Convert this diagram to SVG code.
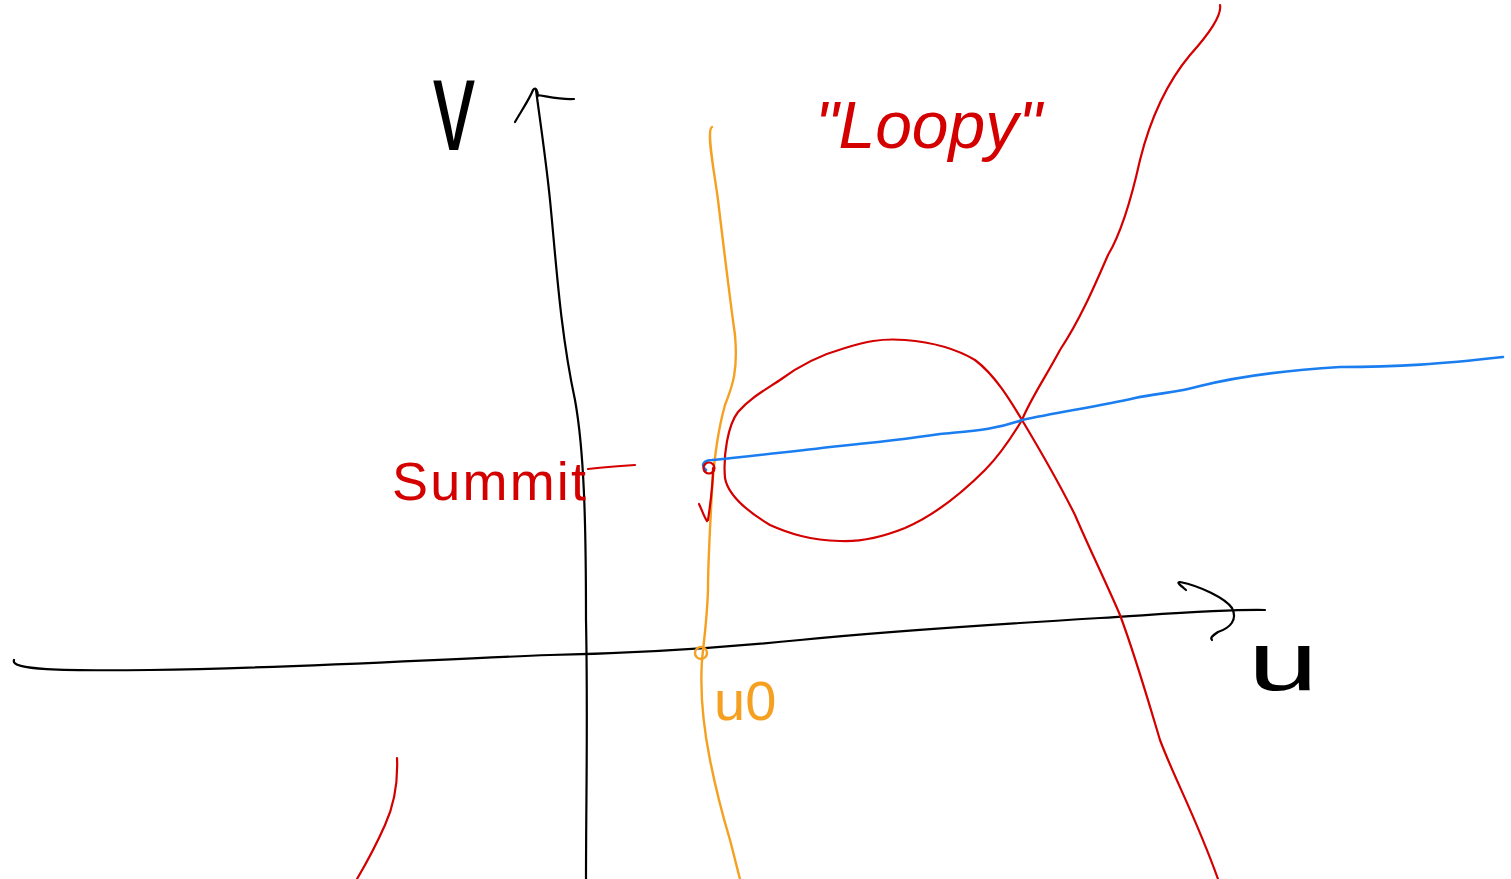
<svg xmlns="http://www.w3.org/2000/svg" width="1511" height="879" viewBox="0 0 1511 879">
<style>
.s{fill:none;stroke-linecap:round;stroke-linejoin:round}
.k{stroke:#000;stroke-width:2.2}
.r{stroke:#d40000;stroke-width:2.2}
.o{stroke:#f5a020;stroke-width:2.4}
.b{stroke:#1a7ef0;stroke-width:2.6}
.t{font-family:"Liberation Sans",Arial,sans-serif}
</style>
<rect width="1511" height="879" fill="#fff"/>
<g id="connectors">
<path id="v-axis" class="s k" d="M586,879 C586,800 588,720 586,620 C586,520 584,450 575,400 C560,330 556,260 550,200 C546,160 540,120 536,90"/>
<path id="v-arrow" class="s k" d="M515,122 C522,110 530,98 533,90 C536,86 538,92 538,96 M537,95 C550,97 562,100 574,99"/>
<path id="u-axis" class="s k" d="M14,660 C10,670 60,671 150,670 C300,668 420,660 550,655 C650,653 720,648 800,640 C900,630 1000,624 1100,618 C1180,613 1230,609 1265,610"/>
<path id="u-arrow" class="s k" d="M1186,590 C1180,585 1176,582 1180,582 C1200,586 1225,598 1232,608 C1238,620 1230,628 1218,632 C1212,636 1210,638 1212,640"/>
<path id="orange" class="s o" d="M712,127 C706,130 714,170 718,200 C724,250 730,300 735,335 C738,370 733,385 725,405 C718,430 714,460 712,490 C710,530 708,560 708,590 C707,620 704,640 702,660 C700,690 702,720 710,760 C716,790 724,820 730,840 C734,855 737,868 740,879"/>
<circle cx="701" cy="653" r="6" class="s o" stroke-width="3"/>
<path id="red-loop" class="s r" d="M1220,5 C1222,15 1208,35 1190,55 C1165,85 1150,120 1140,160 C1130,205 1120,235 1108,255 C1095,285 1080,320 1060,350 C1045,378 1030,400 1022,420 C1010,440 1000,455 985,470 C960,495 935,515 905,528 C880,538 860,542 840,541 C810,540 790,534 770,525 C745,510 728,495 725,478 C723,455 728,425 738,412 C750,398 765,390 780,380 C800,365 820,355 845,348 C865,342 880,338 905,340 C930,342 955,348 975,360 C995,375 1010,400 1022,420 C1040,450 1060,485 1075,515 C1090,550 1105,580 1120,615 C1135,655 1148,700 1160,740 C1175,780 1195,815 1218,879"/>
<path id="red-bottom" class="s r" d="M397,758 C398,780 394,805 385,825 C377,843 367,862 357,879"/>
<path id="blue" class="s b" d="M706,470 C700,465 704,460 712,460 C750,456 790,452 830,447 C870,443 900,440 940,434 C970,431 995,430 1022,420 C1060,412 1100,406 1135,398 C1160,393 1180,392 1200,386 C1240,376 1290,370 1340,367 C1400,367 1440,364 1503,357"/>
<circle cx="709" cy="468" r="5.5" class="s r" stroke-width="3.5"/>
<path id="summit-mark" class="s r" stroke-width="3.2" d="M713,468 C713,485 711,500 708,520 M699,504 C702,510 704,517 707,521"/>
<path id="summit-pointer" class="s r" stroke-width="2.8" d="M588,469 C605,467 620,466 635,465"/>
</g>
<g id="label-v"><text class="t" x="433" y="150" font-size="120" fill="#000" transform="translate(433,150) scale(0.7,1.1) translate(-433,-150)">v</text></g>
<g id="label-u"><text class="t" x="1248" y="690" font-size="84" fill="#000" transform="translate(1248,690) scale(1.5,1) translate(-1248,-690)">u</text></g>
<g id="label-summit"><text class="t" x="392" y="500" font-size="54" fill="#d40000" textLength="194" lengthAdjust="spacing">Summit</text></g>
<g id="label-u0"><text class="t" x="714" y="720" font-size="56" fill="#f5a020">u0</text></g>
<g id="label-loopy"><text class="t" x="815" y="148" font-size="66" fill="#d40000" font-style="italic">"Loopy"</text></g>
</svg>
